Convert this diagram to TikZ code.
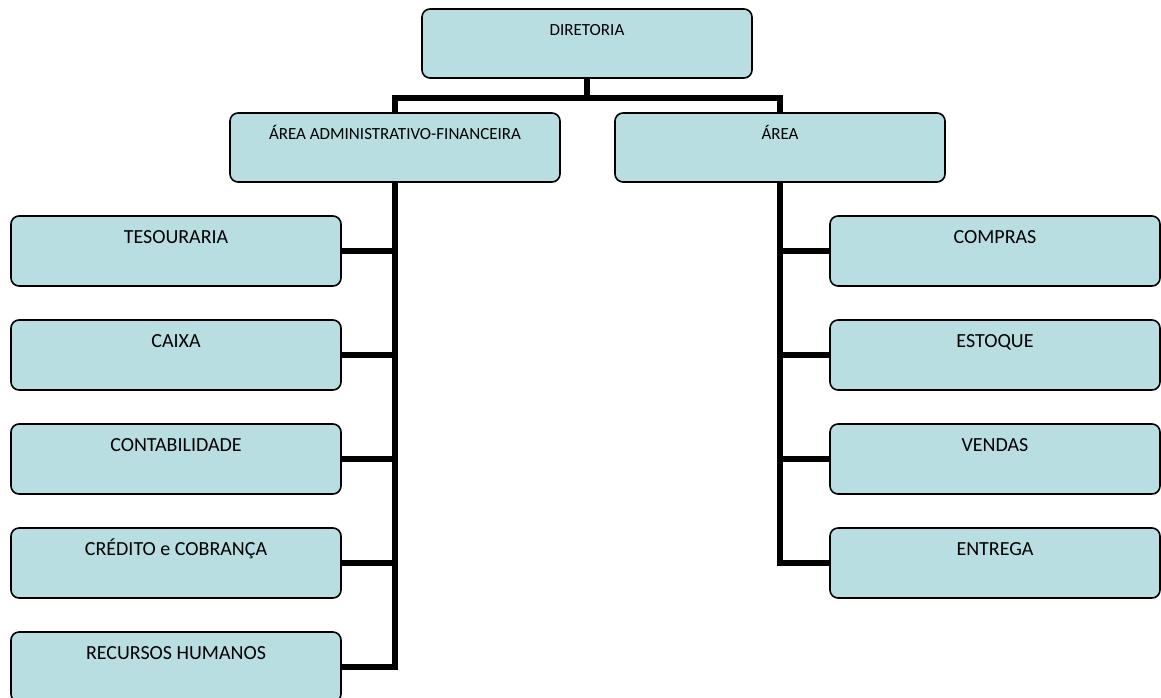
\documentclass[tikz,border=0pt]{standalone}
\usepackage{fontspec}
\setmainfont{Carlito}
\definecolor{boxfill}{RGB}{185,222,225}

\begin{document}
\begin{tikzpicture}
[
    x=1pt, y=-1pt,
    unit/.style={draw, line width=1.6pt, fill=boxfill, rounded corners=8pt,
        minimum width=330pt, minimum height=70pt, inner sep=0pt,
        text height=27pt, text depth=43pt, font=\fontsize{20}{24}\selectfont},
    head/.style={unit, minimum height=69pt, text height=26pt, text depth=43pt,
        font=\fontsize{17}{20}\selectfont},
    link/.style={line width=6pt},
]
\useasboundingbox (0,0) rectangle (1161,697);

\node[head] (dir) at (587,43.5) {DIRETORIA};
\node[head] (adm) at (395,147.5) {ÁREA ADMINISTRATIVO-FINANCEIRA};
\node[head] (area) at (780,147.5) {ÁREA};

\node[unit] (tes) at (176,251) {TESOURARIA};
\node[unit] (cai) at (176,355) {CAIXA};
\node[unit] (con) at (176,459) {CONTABILIDADE};
\node[unit] (cre) at (176,563) {CRÉDITO e COBRANÇA};
\node[unit] (rh) at (176,667) {RECURSOS HUMANOS};

\node[unit] (com) at (995,251) {COMPRAS};
\node[unit] (est) at (995,355) {ESTOQUE};
\node[unit] (ven) at (995,459) {VENDAS};
\node[unit] (ent) at (995,563) {ENTREGA};

\draw[link] (dir.south) -- ++(0,19) coordinate (hub);
\draw[link] (adm.north) |- (hub) -| (area.north);

\draw[link] (adm.south) |- (rh.east);
\draw[link] (tes.east) -- (tes.east -| adm.south);
\draw[link] (cai.east) -- (cai.east -| adm.south);
\draw[link] (con.east) -- (con.east -| adm.south);
\draw[link] (cre.east) -- (cre.east -| adm.south);

\draw[link] (area.south) |- (ent.west);
\draw[link] (com.west) -- (com.west -| area.south);
\draw[link] (est.west) -- (est.west -| area.south);
\draw[link] (ven.west) -- (ven.west -| area.south);
\end{tikzpicture}
\end{document}
